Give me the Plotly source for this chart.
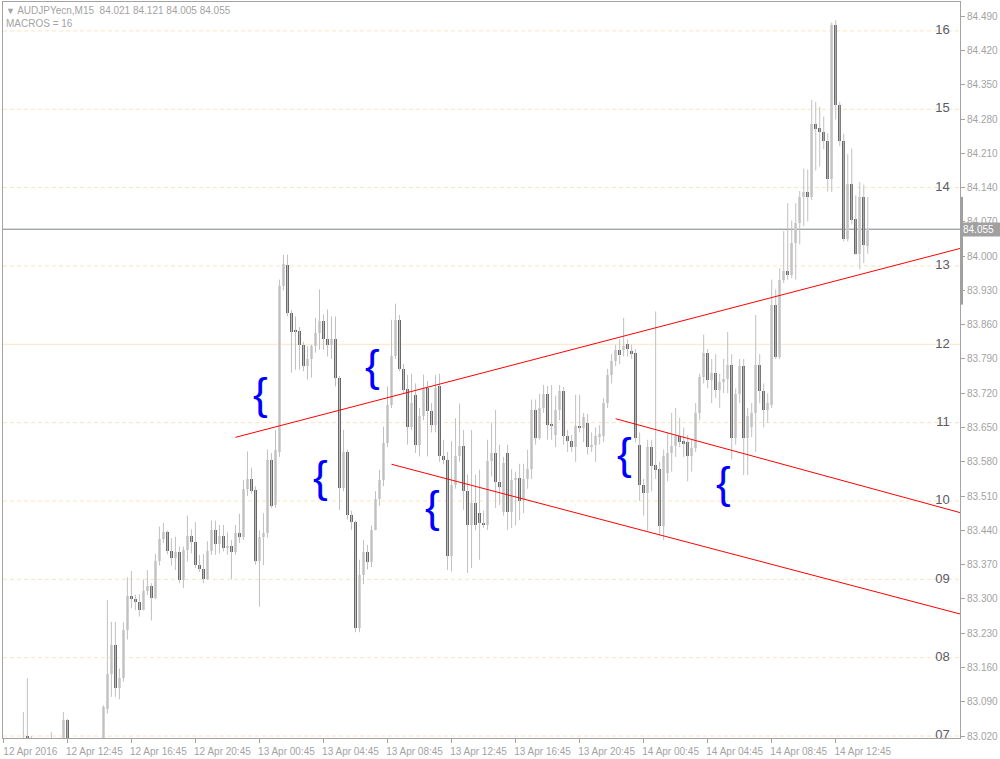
import plotly.graph_objects as go

# ---- data -----------------------------------------------------------------
symbol = "AUDJPYecn,M15"
macros_text = "MACROS = 16"

# OHLC of the M15 bars (bar 0 = 12 Apr 08:45)
opens = [
    82.960, 82.975, 82.965, 82.985, 82.970, 82.990, 83.020, 83.015, 82.975, 82.960,
    82.980, 82.970, 82.985, 82.995, 82.975, 82.990, 83.053, 82.995, 82.970, 82.985,
    82.965, 82.975, 82.990, 82.980, 82.970, 82.988, 83.076, 83.146, 83.206, 83.118,
    83.138, 83.236, 83.306, 83.299, 83.294, 83.277, 83.316, 83.326, 83.302, 83.377,
    83.422, 83.437, 83.397, 83.384, 83.395, 83.339, 83.400, 83.429, 83.417, 83.369,
    83.361, 83.341, 83.398, 83.441, 83.412, 83.429, 83.405, 83.408, 83.396, 83.434,
    83.427, 83.524, 83.545, 83.523, 83.378, 83.427, 83.435, 83.584, 83.492, 83.601,
    83.939, 83.981, 83.884, 83.850, 83.848, 83.818, 83.775, 83.789, 83.816, 83.843,
    83.867, 83.831, 83.818, 83.830, 83.751, 83.526, 83.601, 83.472, 83.457, 83.240,
    83.349, 83.395, 83.375, 83.440, 83.505, 83.543, 83.619, 83.697, 83.797, 83.870,
    83.770, 83.729, 83.652, 83.717, 83.615, 83.674, 83.731, 83.683, 83.656, 83.735,
    83.592, 83.584, 83.388, 83.533, 83.591, 83.613, 83.521, 83.451, 83.496, 83.475,
    83.455, 83.451, 83.582, 83.597, 83.538, 83.478, 83.597, 83.478, 83.543, 83.547,
    83.502, 83.545, 83.565, 83.686, 83.628, 83.690, 83.719, 83.656, 83.635, 83.686,
    83.725, 83.632, 83.622, 83.610, 83.654, 83.650, 83.660, 83.610, 83.615, 83.632,
    83.632, 83.701, 83.758, 83.785, 83.809, 83.809, 83.821, 83.806, 83.803, 83.615,
    83.533, 83.516, 83.611, 83.574, 83.565, 83.449, 83.558, 83.597, 83.613, 83.633,
    83.622, 83.620, 83.591, 83.609, 83.680, 83.753, 83.802, 83.748, 83.761, 83.726,
    83.742, 83.750, 83.778, 83.629, 83.719, 83.775, 83.629, 83.652, 83.680, 83.778,
    83.724, 83.686, 83.697, 83.901, 83.795, 83.952, 83.969, 83.962, 84.027, 84.068,
    84.121, 84.131, 84.121, 84.269, 84.261, 84.253, 84.236, 84.157, 84.472, 84.309,
    84.236, 84.035, 84.148, 84.075, 84.005, 84.121, 84.021,
]
highs = [
    82.985, 82.990, 82.995, 83.000, 82.995, 83.069, 83.138, 83.020, 82.995, 82.985,
    83.000, 82.990, 83.028, 83.000, 83.000, 83.069, 83.055, 83.002, 82.995, 83.000,
    82.990, 83.000, 83.004, 82.998, 82.995, 83.083, 83.298, 83.253, 83.253, 83.158,
    83.252, 83.344, 83.357, 83.309, 83.309, 83.339, 83.359, 83.332, 83.392, 83.448,
    83.455, 83.440, 83.424, 83.427, 83.407, 83.407, 83.470, 83.442, 83.457, 83.390,
    83.392, 83.418, 83.460, 83.460, 83.451, 83.451, 83.436, 83.420, 83.451, 83.474,
    83.543, 83.601, 83.568, 83.530, 83.440, 83.475, 83.605, 83.598, 83.645, 83.952,
    84.003, 84.003, 83.890, 83.877, 83.855, 83.825, 83.816, 83.819, 83.874, 83.932,
    83.881, 83.891, 83.877, 83.877, 83.755, 83.645, 83.605, 83.480, 83.460, 83.380,
    83.420, 83.410, 83.450, 83.520, 83.564, 83.652, 83.734, 83.870, 83.903, 83.880,
    83.780, 83.758, 83.760, 83.740, 83.690, 83.758, 83.745, 83.700, 83.757, 83.760,
    83.625, 83.600, 83.622, 83.669, 83.699, 83.645, 83.554, 83.645, 83.554, 83.564,
    83.480, 83.625, 83.660, 83.686, 83.615, 83.590, 83.615, 83.565, 83.560, 83.576,
    83.576, 83.605, 83.707, 83.707, 83.719, 83.737, 83.735, 83.737, 83.715, 83.737,
    83.733, 83.645, 83.635, 83.717, 83.717, 83.680, 83.678, 83.640, 83.650, 83.655,
    83.710, 83.770, 83.800, 83.819, 83.830, 83.874, 83.830, 83.819, 83.810, 83.640,
    83.545, 83.625, 83.625, 83.887, 83.580, 83.605, 83.640, 83.680, 83.690, 83.670,
    83.650, 83.635, 83.625, 83.700, 83.760, 83.840, 83.810, 83.790, 83.800, 83.760,
    83.790, 83.845, 83.800, 83.730, 83.790, 83.790, 83.690, 83.700, 83.880, 83.800,
    83.740, 83.720, 83.952, 83.932, 83.975, 84.051, 84.108, 84.073, 84.108, 84.133,
    84.179, 84.177, 84.319, 84.315, 84.305, 84.285, 84.251, 84.477, 84.482, 84.315,
    84.250, 84.208, 84.220, 84.124, 84.151, 84.146, 84.121,
]
lows = [
    82.940, 82.955, 82.950, 82.960, 82.955, 82.975, 82.990, 82.960, 82.950, 82.940,
    82.965, 82.950, 82.970, 82.965, 82.960, 82.980, 82.985, 82.960, 82.945, 82.955,
    82.940, 82.960, 82.965, 82.955, 82.950, 82.980, 83.066, 83.100, 83.100, 83.095,
    83.131, 83.217, 83.281, 83.277, 83.264, 83.277, 83.308, 83.256, 83.299, 83.368,
    83.414, 83.391, 83.368, 83.359, 83.332, 83.322, 83.376, 83.393, 83.363, 83.355,
    83.332, 83.339, 83.390, 83.390, 83.393, 83.397, 83.390, 83.340, 83.390, 83.414,
    83.420, 83.510, 83.515, 83.370, 83.284, 83.369, 83.425, 83.486, 83.486, 83.590,
    83.930, 83.877, 83.762, 83.768, 83.768, 83.765, 83.748, 83.752, 83.803, 83.809,
    83.809, 83.795, 83.790, 83.734, 83.482, 83.520, 83.462, 83.441, 83.232, 83.232,
    83.330, 83.360, 83.365, 83.440, 83.490, 83.530, 83.610, 83.690, 83.790, 83.765,
    83.720, 83.615, 83.645, 83.598, 83.591, 83.665, 83.591, 83.640, 83.640, 83.580,
    83.575, 83.359, 83.356, 83.525, 83.580, 83.482, 83.353, 83.363, 83.440, 83.380,
    83.445, 83.441, 83.550, 83.486, 83.492, 83.470, 83.441, 83.445, 83.450, 83.461,
    83.475, 83.525, 83.545, 83.615, 83.625, 83.680, 83.625, 83.625, 83.610, 83.665,
    83.615, 83.600, 83.600, 83.580, 83.640, 83.620, 83.595, 83.600, 83.580, 83.615,
    83.620, 83.690, 83.740, 83.775, 83.780, 83.795, 83.795, 83.790, 83.620, 83.500,
    83.470, 83.440, 83.520, 83.545, 83.429, 83.420, 83.540, 83.560, 83.590, 83.610,
    83.590, 83.540, 83.560, 83.600, 83.665, 83.740, 83.730, 83.700, 83.710, 83.690,
    83.720, 83.720, 83.585, 83.615, 83.700, 83.553, 83.553, 83.630, 83.600, 83.700,
    83.650, 83.660, 83.690, 83.790, 83.790, 83.945, 83.952, 83.955, 83.952, 84.024,
    84.061, 84.071, 84.115, 84.175, 84.183, 84.218, 84.132, 84.131, 84.279, 84.225,
    84.030, 84.030, 84.065, 84.003, 83.973, 83.986, 84.005,
]
closes = [
    82.975, 82.965, 82.985, 82.970, 82.990, 83.000, 83.015, 82.975, 82.960, 82.980,
    82.970, 82.985, 82.995, 82.975, 82.990, 83.052, 82.995, 82.970, 82.985, 82.965,
    82.975, 82.990, 82.980, 82.970, 82.988, 83.080, 83.146, 83.206, 83.118, 83.138,
    83.236, 83.306, 83.299, 83.294, 83.277, 83.316, 83.326, 83.302, 83.377, 83.422,
    83.437, 83.397, 83.384, 83.395, 83.339, 83.400, 83.429, 83.417, 83.369, 83.361,
    83.341, 83.398, 83.441, 83.412, 83.429, 83.405, 83.408, 83.396, 83.434, 83.427,
    83.524, 83.545, 83.520, 83.378, 83.427, 83.435, 83.584, 83.490, 83.605, 83.939,
    83.983, 83.884, 83.846, 83.846, 83.818, 83.775, 83.789, 83.816, 83.843, 83.867,
    83.831, 83.818, 83.830, 83.751, 83.526, 83.601, 83.472, 83.457, 83.240, 83.349,
    83.395, 83.375, 83.440, 83.505, 83.543, 83.619, 83.697, 83.797, 83.870, 83.770,
    83.727, 83.652, 83.700, 83.615, 83.674, 83.731, 83.683, 83.656, 83.731, 83.591,
    83.584, 83.388, 83.533, 83.591, 83.613, 83.521, 83.451, 83.496, 83.451, 83.455,
    83.451, 83.582, 83.597, 83.538, 83.528, 83.577, 83.478, 83.543, 83.547, 83.501,
    83.545, 83.565, 83.686, 83.628, 83.690, 83.719, 83.656, 83.654, 83.686, 83.725,
    83.632, 83.622, 83.610, 83.654, 83.650, 83.672, 83.610, 83.615, 83.633, 83.636,
    83.701, 83.758, 83.786, 83.809, 83.799, 83.817, 83.811, 83.800, 83.629, 83.533,
    83.516, 83.611, 83.572, 83.564, 83.449, 83.591, 83.597, 83.613, 83.633, 83.620,
    83.618, 83.591, 83.609, 83.680, 83.753, 83.802, 83.748, 83.761, 83.726, 83.742,
    83.750, 83.778, 83.629, 83.719, 83.775, 83.629, 83.673, 83.680, 83.778, 83.724,
    83.686, 83.701, 83.901, 83.795, 83.952, 83.969, 83.962, 84.027, 84.068, 84.121,
    84.131, 84.121, 84.269, 84.260, 84.253, 84.235, 84.157, 84.472, 84.309, 84.235,
    84.035, 84.148, 84.073, 84.005, 84.121, 84.022, 84.055,
]
bar_index = list(range(len(closes)))

# time axis labels (every 16 bars = 4 hours)
time_tick_bars = [0, 16, 32, 48, 64, 80, 96, 112, 128, 144, 160, 176, 192, 208]
time_tick_labels = [
    "12 Apr 2016", "12 Apr 12:45", "12 Apr 16:45", "12 Apr 20:45",
    "13 Apr 00:45", "13 Apr 04:45", "13 Apr 08:45", "13 Apr 12:45",
    "13 Apr 16:45", "13 Apr 20:45", "14 Apr 00:45", "14 Apr 04:45",
    "14 Apr 08:45", "14 Apr 12:45",
]

# price scale
price_ticks = [
    83.020, 83.090, 83.160, 83.230, 83.300, 83.370, 83.440, 83.510, 83.580,
    83.650, 83.720, 83.790, 83.860, 83.930, 84.000, 84.070, 84.140, 84.210,
    84.280, 84.350, 84.420, 84.490,
]
price_range = [83.016, 84.519]

# MACROS levels
macro_levels = [83.020, 83.180, 83.340, 83.500, 83.660, 83.820, 83.980, 84.140, 84.300, 84.460]
macro_labels = ["07", "08", "09", "10", "11", "12", "13", "14", "15", "16"]
macro_solid = "12"

# trend lines: (bar, price) anchor pairs
trend_lines = [
    ([58, 239.2], [83.630, 84.016]),
    ([97, 239.2], [83.575, 83.269]),
    ([153, 239.2], [83.668, 83.476]),
]

# blue brace marks
brace_bars = [64.2, 92.2, 79.2, 107.2, 155.2, 179.9]
brace_prices = [83.711, 83.768, 83.541, 83.480, 83.588, 83.529]

# grey range bar on the price scale
scale_bar = [83.901, 84.121]

# ---- styles ---------------------------------------------------------------
FG = "#a3a3a3"
BULL = "#d3d3d3"
BEAR = "#696969"
WICK = "#c0c0c0"
LEVEL = "#fde3c0"
FONT = "Liberation Sans, Arial, sans-serif"

fig = go.Figure()

# wicks
wx, wy = [], []
for i, h, l in zip(bar_index, highs, lows):
    wx += [i, i, None]
    wy += [l, h, None]
fig.add_trace(go.Scatter(
    x=wx, y=wy, mode="lines",
    line=dict(color=WICK, width=1),
    hoverinfo="skip", showlegend=False,
))

# bodies
body_base = [min(o, c) for o, c in zip(opens, closes)]
body_size = [max(abs(c - o), 0.0015) for o, c in zip(opens, closes)]
body_color = [BULL if c >= o else BEAR for o, c in zip(opens, closes)]
fig.add_trace(go.Bar(
    x=bar_index, y=body_size, base=body_base,
    width=0.75, marker=dict(color=body_color, line=dict(width=0)),
    hoverinfo="skip", showlegend=False,
))

# trend lines
for tx, ty in trend_lines:
    fig.add_trace(go.Scatter(
        x=tx, y=ty, mode="lines",
        line=dict(color="#ff0000", width=1),
        hoverinfo="skip", showlegend=False,
    ))

# braces
fig.add_trace(go.Scatter(
    x=brace_bars, y=brace_prices, mode="text", text=["{"] * len(brace_bars),
    textposition="middle center",
    textfont=dict(family=FONT, size=44, color="#0000ff"),
    hoverinfo="skip", showlegend=False,
))

# macro level labels
fig.add_trace(go.Scatter(
    x=[236.5] * len(macro_levels), y=macro_levels, mode="text",
    text=macro_labels, textposition="middle left",
    textfont=dict(family=FONT, size=13, color="#5a5a68"),
    cliponaxis=True, hoverinfo="skip", showlegend=False,
))

# macro level lines
for lv, lab in zip(macro_levels, macro_labels):
    fig.add_shape(
        type="line", xref="paper", x0=0, x1=1, yref="y", y0=lv, y1=lv,
        line=dict(color=LEVEL, width=1, dash="solid" if lab == macro_solid else "4px,3px"),
        layer="below",
    )

# last price line + label
last = closes[-1]
fig.add_shape(
    type="line", xref="paper", x0=0, x1=1, yref="y", y0=last, y1=last,
    line=dict(color="#7c8189", width=1), layer="below",
)
fig.add_annotation(
    xref="paper", x=1, xanchor="left", yref="y", y=last, yanchor="middle",
    text=f"{last:.3f}", showarrow=False, xshift=1,
    font=dict(family=FONT, size=10, color="white"),
    bgcolor="#a0a0a0", borderpad=1, width=36, align="left",
)
fig.add_shape(
    type="rect", xref="paper", x0=1.0, x1=1.0 + 3 / 956, yref="y",
    y0=scale_bar[0], y1=scale_bar[1],
    fillcolor="#a0a0a0", line=dict(width=0),
)

# header
fig.add_annotation(
    xref="paper", yref="paper", x=0, y=1, xanchor="left", yanchor="top",
    xshift=1, yshift=-1, showarrow=False,
    text=("<span style='font-size:9px'>▼</span> " + symbol + "  "
          + f"{opens[-1]:.3f} {highs[-1]:.3f} {lows[-1]:.3f} {closes[-1]:.3f}"
          + "<br>" + macros_text),
    align="left", font=dict(family=FONT, size=10, color=FG),
)

fig.update_layout(
    width=1000, height=759,
    margin=dict(l=3, r=40, t=2, b=21),
    paper_bgcolor="white", plot_bgcolor="white",
    showlegend=False, bargap=0,
    font=dict(family=FONT, size=10, color=FG),
    xaxis=dict(
        range=[-0.08, 239.05],
        tickmode="array", tickvals=time_tick_bars, ticktext=time_tick_labels,
        ticks="outside", ticklen=4, tickcolor=FG, ticklabelshift=27,
        showgrid=False, zeroline=False,
        showline=True, linecolor=FG, mirror=True,
        tickfont=dict(family=FONT, size=10, color=FG),
    ),
    yaxis=dict(
        side="right", range=price_range,
        tickmode="array", tickvals=price_ticks,
        ticktext=[f"{v:.3f}" for v in price_ticks],
        ticks="outside", ticklen=4, tickcolor=FG,
        showgrid=False, zeroline=False,
        showline=True, linecolor=FG, mirror=True,
        tickfont=dict(family=FONT, size=10, color=FG),
    ),
)

fig.write_html(
    "out.html",
    config={"displayModeBar": False},
    post_script="document.body.style.margin='0';document.body.style.overflow='hidden';",
)
